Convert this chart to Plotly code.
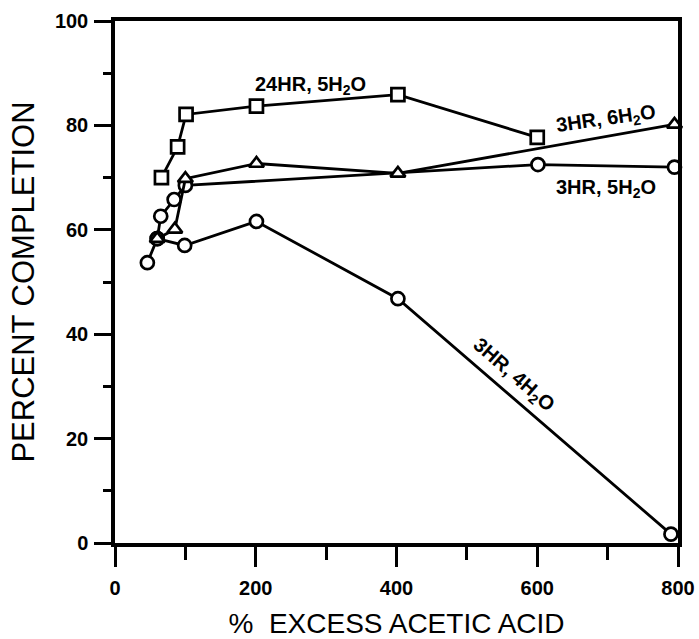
import plotly.graph_objects as go

# ---- data ----
x_24hr_5h2o = [66, 89, 101, 201, 402, 600]
y_24hr_5h2o = [70.0, 75.9, 82.1, 83.7, 85.9, 77.7]

x_3hr_6h2o = [60, 85, 100, 201, 402, 795]
y_3hr_6h2o = [58.3, 60.1, 69.8, 72.7, 70.8, 80.2]

x_3hr_5h2o = [60, 65, 84, 100, 601, 795]
y_3hr_5h2o = [58.3, 62.6, 65.8, 68.5, 72.5, 72.0]

x_3hr_4h2o = [46, 60, 99, 201, 402, 790]
y_3hr_4h2o = [53.7, 58.3, 57.0, 61.6, 46.8, 1.7]

x_ticks = [0, 200, 400, 600, 800]
y_ticks = [0, 20, 40, 60, 80, 100]

FONT = "Liberation Sans"

fig = go.Figure()

def add_series(xs, ys, symbol, size):
    fig.add_trace(go.Scatter(
        x=xs, y=ys, mode="lines+markers",
        line=dict(color="black", width=2.8),
        marker=dict(symbol=symbol, size=size, color="white",
                    line=dict(color="black", width=2.7)),
        cliponaxis=False, showlegend=False))

add_series(x_3hr_4h2o, y_3hr_4h2o, "circle", 13)
add_series(x_3hr_5h2o, y_3hr_5h2o, "circle", 13)
add_series(x_3hr_6h2o, y_3hr_6h2o, "triangle-up", 13)
add_series(x_24hr_5h2o, y_24hr_5h2o, "square", 13)

lab_font = dict(family=FONT, size=20, color="black", weight="bold")
annos = [
    dict(x=278, y=87.7, text="24HR, 5H<sub>2</sub>O", textangle=0),
    dict(x=698, y=81.2, text="3HR, 6H<sub>2</sub>O", textangle=-8),
    dict(x=697, y=68.0, text="3HR, 5H<sub>2</sub>O", textangle=0),
    dict(x=566, y=32.0, text="3HR, 4H<sub>2</sub>O", textangle=41),
]
for a in annos:
    fig.add_annotation(xref="x", yref="y", showarrow=False, font=lab_font, **a)

axis_common = dict(
    showgrid=False, zeroline=False, showline=True, linecolor="black",
    linewidth=3.5, mirror=True, ticks="outside", tickcolor="black",
    tickwidth=2.5, automargin=False,
    tickfont=dict(family=FONT, size=20, color="black", weight="bold"),
)

fig.update_xaxes(
    range=[0, 800], tickvals=x_ticks, ticktext=[str(v) for v in x_ticks],
    ticklen=20, ticklabelstandoff=4,
    minor=dict(dtick=100, ticklen=13, tickwidth=2.5, tickcolor="black", ticks="outside"),
    title=dict(text="%\u00a0 EXCESS ACETIC ACID",
               font=dict(family=FONT, size=28, color="black"), standoff=26),
    **axis_common)
fig.update_yaxes(
    range=[0, 100], tickvals=y_ticks, ticktext=[str(v) for v in y_ticks],
    ticklen=17, ticklabelstandoff=2,
    minor=dict(dtick=10, ticklen=8, tickwidth=2.5, tickcolor="black", ticks="outside"),
    title=dict(text="PERCENT COMPLETION",
               font=dict(family=FONT, size=31, color="black"), standoff=12),
    **axis_common)

fig.update_layout(
    width=699, height=639,
    margin=dict(l=115, r=21, t=21, b=96),
    plot_bgcolor="white", paper_bgcolor="white",
)

fig.write_html("out.html")
